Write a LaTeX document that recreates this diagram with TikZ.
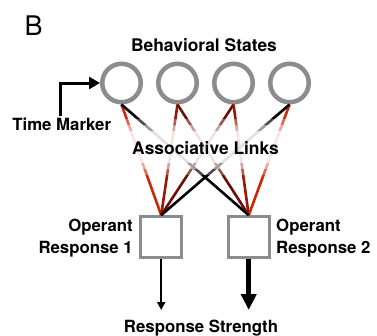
\documentclass[tikz,border=0pt]{standalone}
\usepackage{fontspec}
\setmainfont{TeX Gyre Heros}
\usetikzlibrary{arrows.meta}

\definecolor{ringgray}{RGB}{140,140,142}
\definecolor{linkred}{RGB}{208,38,4}
\definecolor{linkmid}{RGB}{150,24,8}
\definecolor{linkdark}{RGB}{108,14,6}

\tikzset{
  state/.style={circle, draw=ringgray, line width=4.5pt, fill=white,
                minimum size=38.5pt, inner sep=0pt},
  respbox/.style={rectangle, draw=ringgray, line width=3pt, fill=white,
                  minimum size=41pt, inner sep=0pt},
  label/.style={font=\fontsize{16.8}{21.7}\selectfont\bfseries, inner sep=0pt},
  biglabel/.style={label, font=\fontsize{17.4}{21.7}\selectfont\bfseries},
  link/.style={line width=2.6pt},
  haze/.style={fill=white, draw=none}
}

\begin{document}
\begin{tikzpicture}[x=1pt, y=-1pt]
  \useasboundingbox (0,0) rectangle (377,335);

  % panel letter and layer title
  \node[inner sep=0pt, anchor=base west, font=\fontsize{27}{30}\selectfont] (panel) at (24.5,35) {B};
  \node[biglabel, anchor=base] (title) at (204,51) {Behavioral States};

  % behavioural state units
  \node[state] (s1) at (121.5,83) {};
  \node[state] (s2) at (177.5,83) {};
  \node[state] (s3) at (233.5,83) {};
  \node[state] (s4) at (289.5,83) {};

  % operant response units
  \node[respbox] (r1) at (161.2,237.2) {};
  \node[respbox] (r2) at (248.7,237.2) {};

  % associative links (coloured first, black on top)
  \draw[link, linkred]  (s1.south) -- (r1.north);
  \draw[link, linkmid]  (s2.south) -- (r1.north);
  \draw[link, linkdark] (s3.south) -- (r1.north);
  \draw[link, linkdark] (s2.south) -- (r2.north);
  \draw[link, linkmid]  (s3.south) -- (r2.north);
  \draw[link, linkred]  (s4.south) -- (r2.north);
  \draw[link, black]    (s1.south) -- (r2.north);
  \draw[link, black]    (s4.south) -- (r1.north);

  % soft white band behind the link label
  \fill[haze, opacity=0.3] (100,119) rectangle (310,175);
  \fill[haze, opacity=0.45] (100,125) rectangle (310,169);
  \fill[haze, opacity=0.7] (100,131) rectangle (310,163);
  \node[biglabel, anchor=base] (links) at (205.5,154) {Associative Links};

  % time marker input
  \coordinate (tm0) at (60.7,116);
  \coordinate (tm1) at (60.7,83);
  \node[label, anchor=base] (tmlabel) at (61.7,130.5) {Time Marker};
  \draw[line width=3pt, -{Triangle[length=11pt, width=12pt]}]
    (tm0) -- (tm1) -- (s1.west);

  % response labels
  \node[label, anchor=east, align=right] (op1) at (133,238) {Operant\\Response 1};
  \node[label, anchor=west, align=left]  (op2) at (276,238) {Operant\\Response 2};

  % response strength outputs
  \coordinate (o1) at (161.2,310);
  \coordinate (o2) at (248.7,310);
  \draw[line width=2pt, -{Triangle[length=8pt, width=8pt]}] (r1.south) -- (o1);
  \draw[line width=5pt, -{Triangle[length=16pt, width=15pt]}] (r2.south) -- (o2);
  \node[label, anchor=base] (strength) at (201,332) {Response Strength};
\end{tikzpicture}
\end{document}
